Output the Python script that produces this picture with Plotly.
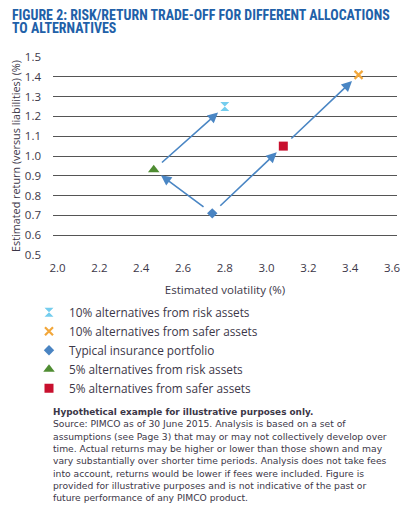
import plotly.graph_objects as go

# allocations: estimated volatility (%) vs estimated return versus liabilities (%)
names = ['10% alternatives from risk assets',
         '10% alternatives from safer assets',
         'Typical insurance portfolio',
         '5% alternatives from risk assets',
         '5% alternatives from safer assets']
volatility = [2.80, 3.44, 2.74, 2.46, 3.08]
ret = [1.25, 1.41, 0.71, 0.93, 1.05]

symbols = ['hourglass', 'x-thin', 'diamond', 'triangle-up', 'square']
colors = ['#74cdee', '#f2a73b', '#4a84c2', '#4f8d32', '#c8102e']
sizes = [9, 8, 8, 10, 9]

# arrows between allocations (from index, to index)
moves = [(2, 3), (2, 4), (3, 0), (4, 1)]

xticks = [2.0, 2.2, 2.4, 2.6, 2.8, 3.0, 3.2, 3.4, 3.6]
yticks = [0.5, 0.6, 0.7, 0.8, 0.9, 1.0, 1.1, 1.2, 1.3, 1.4, 1.5]

title_lines = ['FIGURE 2: RISK/RETURN TRADE-OFF FOR DIFFERENT ALLOCATIONS',
               'TO ALTERNATIVES']
note_head = 'Hypothetical example for illustrative purposes only.'
note_lines = ['Source: PIMCO as of 30 June 2015. Analysis is based on a set of',
              'assumptions (see Page 3) that may or may not collectively develop over',
              'time. Actual returns may be higher or lower than those shown and may',
              'vary substantially over shorter time periods. Analysis does not take fees',
              'into account, returns would be lower if fees were included. Figure is',
              'provided for illustrative purposes and is not indicative of the past or',
              'future performance of any PIMCO product.']

txt = '#3c3748'
arrow_col = '#4a86c4'
sans = 'Open Sans'

# page body has an 8px margin, so the figure is laid out 8px up/left
W, H = 399, 500
L, R, T, B = 45, 10, 49, 253
pw, ph = W - L - R, H - T - B


def px(pix):
    return (pix - 8 - L) / pw


def py(pix):
    return (H - B - (pix - 8)) / ph


fig = go.Figure()
for i in range(len(names)):
    mk = dict(symbol=symbols[i], size=sizes[i], color=colors[i])
    if symbols[i] == 'x-thin':
        mk['line'] = dict(color=colors[i], width=2.2)
    else:
        mk['line'] = dict(width=0)
    fig.add_trace(go.Scatter(x=[volatility[i]], y=[ret[i]], mode='markers',
                             name=names[i], marker=mk))

for a, b in moves:
    fig.add_annotation(x=volatility[b], y=ret[b], ax=volatility[a], ay=ret[a],
                       xref='x', yref='y', axref='x', ayref='y', text='',
                       showarrow=True, arrowhead=2, arrowsize=1.3, arrowwidth=1.6,
                       arrowcolor=arrow_col, standoff=9, startstandoff=9)

title_html = '<br>'.join('<span style="font-size:13.9px">%s</span>' % s for s in title_lines)
fig.add_annotation(text='<b>' + title_html + '</b>', xref='paper', yref='paper',
                   x=px(10), y=py(5), xanchor='left', yanchor='top', align='left',
                   showarrow=False,
                   font=dict(family='Roboto Condensed, DejaVu Sans Condensed, Roboto',
                             size=10.3, color='#2160a8'))

note_html = '<span style="font-size:8.9px"><b>%s</b></span><br>' % note_head
note_html += '<br>'.join('<span style="font-size:9.2px">%s</span>' % s for s in note_lines)
fig.add_annotation(text=note_html, xref='paper', yref='paper',
                   x=px(51), y=py(405), xanchor='left', yanchor='top', align='left',
                   showarrow=False, font=dict(family='DejaVu Sans', size=9.5, color=txt))

fig.update_layout(
    width=W, height=H,
    margin=dict(l=L, r=R, t=T, b=B, autoexpand=False),
    paper_bgcolor='white', plot_bgcolor='white',
    font=dict(family=sans, size=11.5, color=txt),
    showlegend=True,
    legend=dict(x=px(29), xanchor='left', y=py(297.7), yanchor='top',
                font=dict(family=sans, size=11.8, color=txt),
                itemwidth=30, tracegroupgap=0, bgcolor='rgba(0,0,0,0)'),
)
fig.update_xaxes(range=[1.978, 3.624], tickvals=xticks, tickformat='.1f',
                 showgrid=False, zeroline=False, showline=False, ticks='',
                 ticklabelstandoff=4,
                 title=dict(text='Estimated volatility (%)', standoff=12,
                            font=dict(size=11.5, color=txt)))
fig.update_yaxes(range=[0.4995, 1.5005], tickvals=yticks, tickformat='.1f',
                 showgrid=True, gridcolor='#555555', gridwidth=1,
                 zeroline=False, showline=False, ticks='', ticklabelstandoff=11,
                 title=dict(text='Estimated return (versus liabilities) (%)', standoff=4,
                            font=dict(size=10.8, color=txt)))

fig.write_html('out.html')
